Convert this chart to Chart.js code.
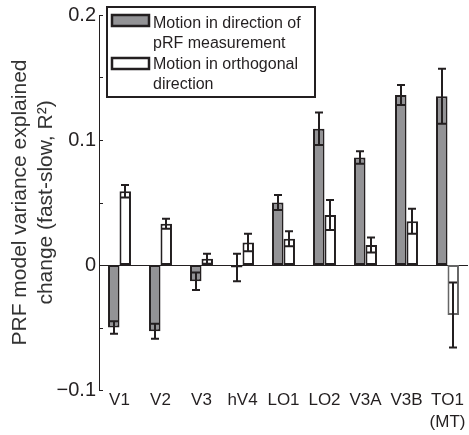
<!DOCTYPE html>
<html>
<head>
<meta charset="utf-8">
<script src="https://cdn.jsdelivr.net/npm/chart.js@4.4.1/dist/chart.umd.min.js"></script>
<style>
  html, body { margin: 0; padding: 0; background: #fff; }
  canvas { display: block; }
</style>
</head>
<body>
<canvas id="prf" width="469" height="435"></canvas>
<script>
// ---------- data ----------
const areas = ["V1", "V2", "V3", "hV4", "LO1", "LO2", "V3A", "V3B", ["TO1", "(MT)"]];
const parallel = [-0.050, -0.053, -0.013, -0.002, 0.050, 0.109, 0.086, 0.136, 0.135];
const parallelErr = [0.005, 0.006, 0.007, 0.011, 0.006, 0.013, 0.005, 0.008, 0.022];
const orthogonal = [0.059, 0.033, 0.005, 0.018, 0.021, 0.040, 0.016, 0.035, -0.040];
const orthogonalErr = [0.005, 0.004, 0.004, 0.007, 0.006, 0.012, 0.006, 0.010, 0.026];
const legendPar = ["Motion in direction of", "pRF measurement"];
const legendOrth = ["Motion in orthogonal", "direction"];
const yTitle = ["PRF model variance explained", "change (fast-slow, R\u00B2)"];

const INK = "#231f20";
const GREY = "#939396";
const FONT = "'Liberation Sans', Arial, Helvetica, sans-serif";

// ---------- error bars ----------
const errorBars = {
  id: "errorBars",
  afterDatasetsDraw(chart) {
    const ys = chart.scales.y;
    const ctx = chart.ctx;
    ctx.save();
    ctx.strokeStyle = INK;
    ctx.lineWidth = 2;
    chart.data.datasets.forEach((ds, i) => {
      chart.getDatasetMeta(i).data.forEach((bar, j) => {
        const v = ds.data[j], e = ds.err[j];
        const x = Math.round(bar.x);
        const y1 = ys.getPixelForValue(v + e);
        const y2 = ys.getPixelForValue(v - e);
        ctx.beginPath();
        ctx.moveTo(x, y1); ctx.lineTo(x, y2);
        ctx.moveTo(x - 4, y1); ctx.lineTo(x + 4, y1);
        ctx.moveTo(x - 4, y2); ctx.lineTo(x + 4, y2);
        ctx.stroke();
      });
    });
    ctx.restore();
  },
};

// ---------- ticks vers l'intérieur + légende ----------
const decorations = {
  id: "decorations",
  afterDraw(chart) {
    const ctx = chart.ctx;
    const ys = chart.scales.y;
    const left = chart.chartArea.left;
    ctx.save();
    ctx.strokeStyle = INK;
    ctx.lineWidth = 1;
    ys.ticks.forEach((t) => {
      const y = Math.round(ys.getPixelForValue(t.value)) + 0.5;
      ctx.beginPath();
      ctx.moveTo(left, y); ctx.lineTo(left + 4, y);
      ctx.stroke();
    });

    // légende
    ctx.fillStyle = "#fff";
    ctx.fillRect(107, 7, 208, 90);
    ctx.lineWidth = 2;
    ctx.strokeRect(107, 7, 208, 90);

    const items = [
      { fill: GREY, lines: legendPar, sy: 15, base: [28, 47.5] },
      { fill: "#fff", lines: legendOrth, sy: 58, base: [69, 89] },
    ];
    ctx.font = "16px " + FONT;
    ctx.textBaseline = "alphabetic";
    items.forEach((it) => {
      ctx.fillStyle = it.fill;
      ctx.fillRect(112, it.sy, 37, 11);
      ctx.lineWidth = 2.5;
      ctx.strokeStyle = INK;
      ctx.strokeRect(112, it.sy, 37, 11);
      ctx.fillStyle = INK;
      it.lines.forEach((s, k) => ctx.fillText(s, 153, it.base[k]));
    });
    ctx.restore();
  },
};

const fmtTick = (v) => {
  const r = Math.round(v * 100) / 100;
  if (Math.abs(r * 10 - Math.round(r * 10)) > 1e-6) return "";
  if (r === 0) return "0";
  return (r < 0 ? "\u2212" : "") + Math.abs(r).toString();
};

new Chart(document.getElementById("prf"), {
  type: "bar",
  data: {
    labels: areas,
    datasets: [
      {
        label: legendPar.join(" "),
        data: parallel,
        err: parallelErr,
        backgroundColor: GREY,
        borderColor: INK,
        borderWidth: 2,
        borderSkipped: false,
        categoryPercentage: 0.56,
        barPercentage: 1,
      },
      {
        label: legendOrth.join(" "),
        data: orthogonal,
        err: orthogonalErr,
        backgroundColor: "#fff",
        borderColor: [INK, INK, INK, INK, INK, INK, INK, INK, "#666"],
        borderWidth: 2,
        borderSkipped: false,
        categoryPercentage: 0.56,
        barPercentage: 1,
      },
    ],
  },
  options: {
    responsive: false,
    devicePixelRatio: 1,
    animation: false,
    layout: { padding: { top: 15, right: 1, left: 0, bottom: 0 } },
    plugins: { legend: { display: false }, tooltip: { enabled: false } },
    scales: {
      x: {
        grid: { display: false },
        border: { display: false },
        ticks: {
          color: INK,
          font: { family: FONT, size: 17, lineHeight: 1.3 },
          padding: -9,
          maxRotation: 0,
          autoSkip: false,
        },
        afterFit: (s) => { s.height = 45; },
      },
      y: {
        min: -0.1,
        max: 0.2,
        ticks: {
          stepSize: 0.05,
          color: INK,
          font: { family: FONT, size: 20 },
          padding: 3,
          callback: fmtTick,
        },
        grid: {
          drawTicks: false,
          color: (c) => (c.tick && Math.abs(c.tick.value) < 1e-9 ? INK : "rgba(0,0,0,0)"),
          lineWidth: 1,
        },
        border: { display: true, color: INK, width: 1 },
        title: {
          display: true,
          text: yTitle,
          color: "#333",
          font: { family: FONT, size: 21 },
          padding: { top: 8, bottom: 0 },
        },
        afterFit: (s) => { s.width = 99; },
      },
    },
  },
  plugins: [errorBars, decorations],
});
</script>
</body>
</html>
